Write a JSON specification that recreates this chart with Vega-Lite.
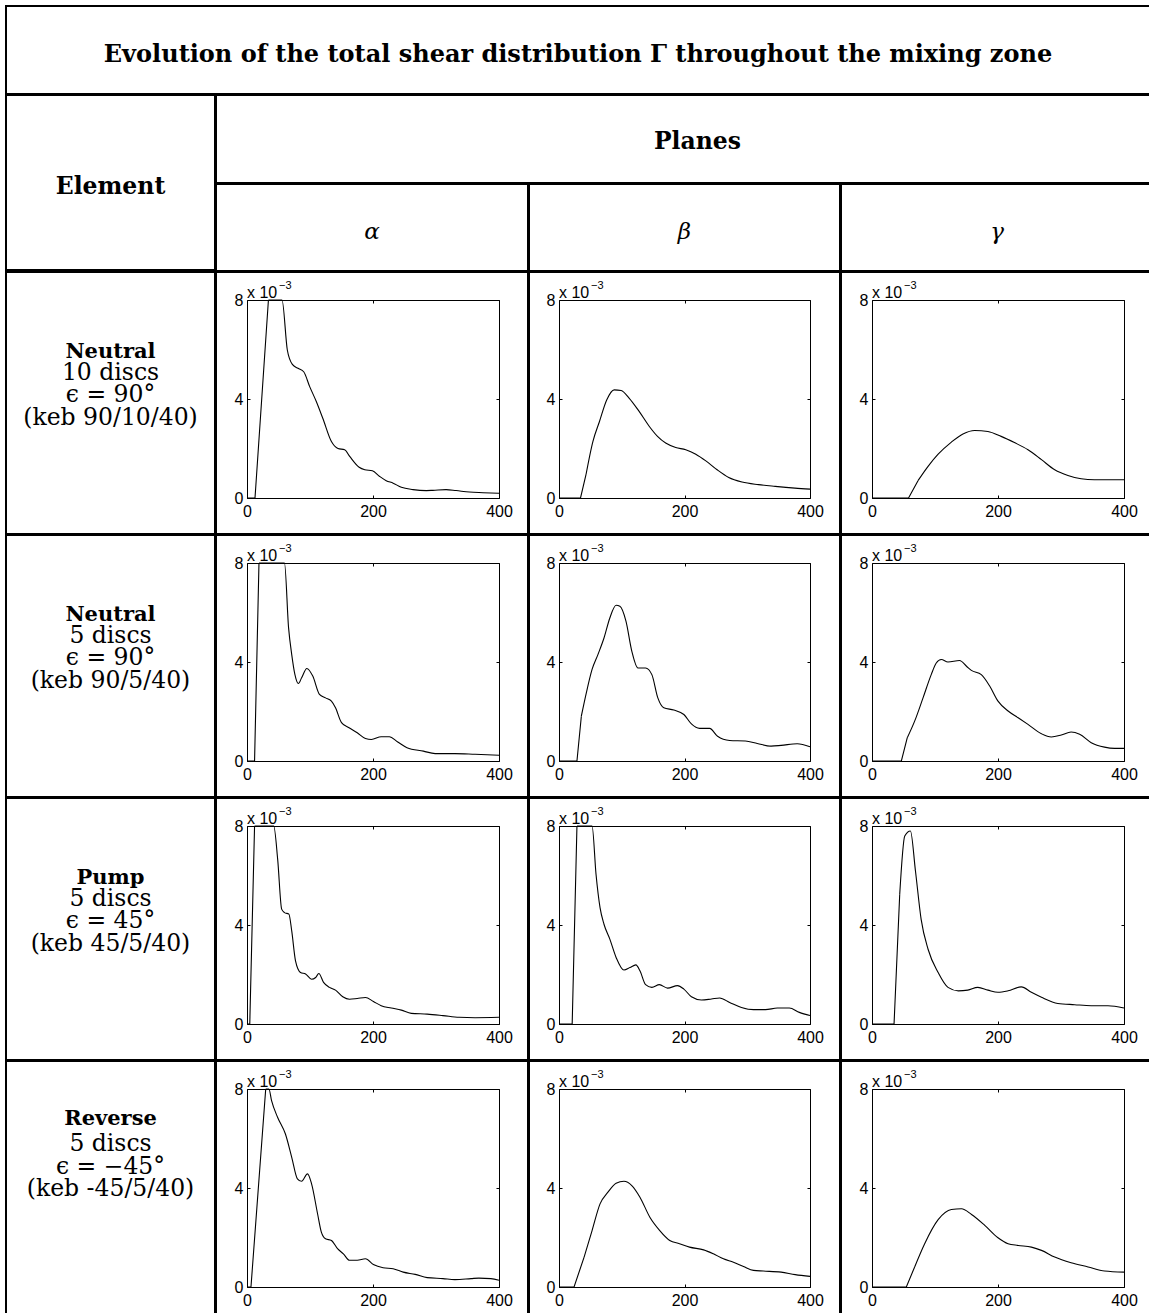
{
  "$schema": "https://vega.github.io/schema/vega-lite/v6.json",
  "padding": {"left": 5, "top": 5, "right": -4, "bottom": -7},
  "background": "white",
  "spacing": -4,
  "datasets": {
    "r1a": [{"x":0,"y":0},{"x":12.7,"y":0},{"x":34,"y":8},{"x":40,"y":9.5},{"x":48,"y":10.2},{"x":55.6,"y":8},{"x":64,"y":5.98},{"x":72,"y":5.4},{"x":81,"y":5.24},{"x":90,"y":5.1},{"x":99.5,"y":4.5},{"x":110,"y":3.9},{"x":120.6,"y":3.2},{"x":134,"y":2.28},{"x":144.4,"y":2.0},{"x":155,"y":1.95},{"x":163,"y":1.68},{"x":178,"y":1.24},{"x":187,"y":1.14},{"x":199,"y":1.1},{"x":210.6,"y":0.87},{"x":221,"y":0.7},{"x":232,"y":0.6},{"x":245,"y":0.43},{"x":263.5,"y":0.34},{"x":284.7,"y":0.3},{"x":295,"y":0.31},{"x":316,"y":0.34},{"x":332,"y":0.3},{"x":353,"y":0.24},{"x":374.6,"y":0.215},{"x":400,"y":0.19}],
    "r1b": [{"x":0,"y":0},{"x":34.3,"y":0},{"x":43,"y":0.94},{"x":54,"y":2.28},{"x":64.5,"y":3.09},{"x":76,"y":3.96},{"x":88,"y":4.37},{"x":99,"y":4.34},{"x":112,"y":4.03},{"x":128,"y":3.49},{"x":144,"y":2.89},{"x":157,"y":2.49},{"x":170,"y":2.22},{"x":186,"y":2.04},{"x":202,"y":1.95},{"x":218,"y":1.77},{"x":234,"y":1.5},{"x":252,"y":1.14},{"x":270.5,"y":0.83},{"x":291.7,"y":0.645},{"x":318,"y":0.54},{"x":344.5,"y":0.47},{"x":376,"y":0.4},{"x":400,"y":0.36}],
    "r1g": [{"x":0,"y":0},{"x":58,"y":0},{"x":73,"y":0.7},{"x":89,"y":1.28},{"x":105,"y":1.77},{"x":126,"y":2.26},{"x":144.4,"y":2.59},{"x":163,"y":2.73},{"x":184,"y":2.69},{"x":205,"y":2.49},{"x":226,"y":2.24},{"x":247.6,"y":1.95},{"x":269,"y":1.55},{"x":290,"y":1.14},{"x":311,"y":0.91},{"x":332,"y":0.78},{"x":353,"y":0.74},{"x":400,"y":0.74}],
    "r2a": [{"x":0,"y":0},{"x":12,"y":0},{"x":19,"y":8},{"x":30,"y":11},{"x":45,"y":11},{"x":59.5,"y":8},{"x":66,"y":5.38},{"x":71,"y":4.3},{"x":76,"y":3.5},{"x":81.6,"y":3.13},{"x":86.7,"y":3.36},{"x":95,"y":3.74},{"x":104.4,"y":3.43},{"x":115,"y":2.69},{"x":124.7,"y":2.55},{"x":134,"y":2.42},{"x":140.5,"y":2.15},{"x":150,"y":1.55},{"x":162,"y":1.34},{"x":175,"y":1.14},{"x":188,"y":0.91},{"x":197.5,"y":0.87},{"x":213,"y":0.98},{"x":226,"y":0.98},{"x":238.6,"y":0.78},{"x":254,"y":0.54},{"x":280,"y":0.4},{"x":298.7,"y":0.3},{"x":330,"y":0.3},{"x":362,"y":0.27},{"x":400,"y":0.23}],
    "r2b": [{"x":0,"y":0},{"x":28.6,"y":0},{"x":35.6,"y":1.81},{"x":43,"y":2.69},{"x":52.7,"y":3.7},{"x":62,"y":4.3},{"x":71.7,"y":4.97},{"x":81,"y":5.78},{"x":91,"y":6.29},{"x":97,"y":6.25},{"x":106.7,"y":5.65},{"x":116,"y":4.44},{"x":125.7,"y":3.76},{"x":138,"y":3.76},{"x":148,"y":3.49},{"x":157.5,"y":2.55},{"x":167,"y":2.15},{"x":183,"y":2.06},{"x":199,"y":1.88},{"x":211,"y":1.5},{"x":224,"y":1.32},{"x":240,"y":1.32},{"x":252.7,"y":1.0},{"x":272,"y":0.83},{"x":297,"y":0.81},{"x":316,"y":0.71},{"x":338,"y":0.6},{"x":354,"y":0.63},{"x":379.7,"y":0.7},{"x":400,"y":0.58}],
    "r2g": [{"x":0,"y":0},{"x":46.6,"y":0},{"x":56,"y":0.94},{"x":67.7,"y":1.61},{"x":81,"y":2.55},{"x":94,"y":3.49},{"x":102,"y":3.96},{"x":110,"y":4.1},{"x":120.6,"y":4.0},{"x":139,"y":4.06},{"x":150,"y":3.83},{"x":157.7,"y":3.66},{"x":173.5,"y":3.49},{"x":187,"y":3.02},{"x":200,"y":2.42},{"x":216,"y":2.02},{"x":232,"y":1.75},{"x":247.6,"y":1.48},{"x":269,"y":1.1},{"x":284.7,"y":0.97},{"x":300.5,"y":1.05},{"x":316,"y":1.17},{"x":329.6,"y":1.08},{"x":348,"y":0.74},{"x":369,"y":0.56},{"x":385,"y":0.51},{"x":400,"y":0.51}],
    "r3a": [{"x":0,"y":0},{"x":4.4,"y":0},{"x":12,"y":8},{"x":20,"y":11},{"x":35,"y":11},{"x":42.4,"y":8},{"x":48.7,"y":6.65},{"x":55,"y":4.64},{"x":59.5,"y":4.5},{"x":66.5,"y":4.44},{"x":71,"y":3.76},{"x":77,"y":2.55},{"x":85,"y":2.08},{"x":93,"y":2.02},{"x":102.5,"y":1.81},{"x":109,"y":1.88},{"x":114,"y":2.04},{"x":121.5,"y":1.68},{"x":131,"y":1.48},{"x":140.5,"y":1.37},{"x":152,"y":1.1},{"x":162.7,"y":1.0},{"x":175,"y":1.03},{"x":188,"y":1.07},{"x":200.6,"y":0.91},{"x":213,"y":0.74},{"x":229,"y":0.645},{"x":245,"y":0.56},{"x":260.8,"y":0.43},{"x":286,"y":0.4},{"x":311,"y":0.34},{"x":336.7,"y":0.27},{"x":362,"y":0.255},{"x":400,"y":0.27}],
    "r3b": [{"x":0,"y":0},{"x":21,"y":0},{"x":28.6,"y":8},{"x":35,"y":11},{"x":45,"y":11},{"x":52.7,"y":8},{"x":59,"y":6.05},{"x":65.4,"y":4.7},{"x":71.7,"y":4.03},{"x":81,"y":3.43},{"x":91,"y":2.69},{"x":103.5,"y":2.18},{"x":113,"y":2.28},{"x":122.5,"y":2.39},{"x":129,"y":2.15},{"x":138,"y":1.59},{"x":148,"y":1.48},{"x":160,"y":1.59},{"x":173,"y":1.45},{"x":189,"y":1.55},{"x":199,"y":1.41},{"x":211,"y":1.1},{"x":227,"y":0.97},{"x":243,"y":1.01},{"x":256,"y":1.05},{"x":272,"y":0.87},{"x":290.8,"y":0.67},{"x":310,"y":0.58},{"x":329,"y":0.58},{"x":348,"y":0.645},{"x":367,"y":0.645},{"x":383,"y":0.47},{"x":400,"y":0.34}],
    "r3g": [{"x":0,"y":0},{"x":35,"y":0},{"x":44,"y":5.24},{"x":52,"y":7.6},{"x":61,"y":7.8},{"x":69,"y":6.18},{"x":78,"y":4.23},{"x":89,"y":3.02},{"x":105,"y":2.08},{"x":120.6,"y":1.48},{"x":137,"y":1.34},{"x":152,"y":1.37},{"x":168,"y":1.48},{"x":184,"y":1.37},{"x":200,"y":1.28},{"x":216,"y":1.34},{"x":237,"y":1.5},{"x":253,"y":1.28},{"x":269,"y":1.08},{"x":295,"y":0.83},{"x":321.7,"y":0.78},{"x":348,"y":0.74},{"x":374.6,"y":0.74},{"x":400,"y":0.645}],
    "r4a": [{"x":0,"y":0},{"x":6.3,"y":0},{"x":29.7,"y":8},{"x":32,"y":8.6},{"x":34.8,"y":8},{"x":39,"y":7.53},{"x":48.7,"y":6.85},{"x":61,"y":6.18},{"x":71,"y":5.24},{"x":80,"y":4.37},{"x":86.7,"y":4.27},{"x":96,"y":4.57},{"x":102.5,"y":4.17},{"x":112,"y":2.96},{"x":118,"y":2.22},{"x":124.7,"y":1.95},{"x":134,"y":1.88},{"x":143.7,"y":1.55},{"x":153,"y":1.34},{"x":162.7,"y":1.08},{"x":175,"y":1.08},{"x":188,"y":1.14},{"x":200.6,"y":0.91},{"x":216,"y":0.78},{"x":232,"y":0.74},{"x":248,"y":0.6},{"x":267,"y":0.51},{"x":286,"y":0.38},{"x":311,"y":0.34},{"x":330,"y":0.3},{"x":355.7,"y":0.34},{"x":368,"y":0.36},{"x":387,"y":0.34},{"x":400,"y":0.27}],
    "r4b": [{"x":0,"y":0},{"x":24,"y":0},{"x":40,"y":1.21},{"x":52.7,"y":2.28},{"x":65.4,"y":3.36},{"x":78,"y":3.83},{"x":91,"y":4.19},{"x":103.5,"y":4.27},{"x":116,"y":4.1},{"x":129,"y":3.63},{"x":144.8,"y":2.82},{"x":160.6,"y":2.28},{"x":176.5,"y":1.88},{"x":192,"y":1.75},{"x":208,"y":1.61},{"x":230.5,"y":1.5},{"x":246,"y":1.34},{"x":262,"y":1.14},{"x":278,"y":1.0},{"x":294,"y":0.83},{"x":310,"y":0.67},{"x":325.7,"y":0.645},{"x":354,"y":0.6},{"x":376.5,"y":0.5},{"x":400,"y":0.43}],
    "r4g": [{"x":0,"y":0},{"x":54.5,"y":0},{"x":67.7,"y":0.81},{"x":83.6,"y":1.75},{"x":105,"y":2.72},{"x":126,"y":3.13},{"x":142,"y":3.16},{"x":158,"y":2.93},{"x":179,"y":2.49},{"x":200,"y":1.99},{"x":216,"y":1.75},{"x":232,"y":1.68},{"x":253,"y":1.61},{"x":269,"y":1.48},{"x":290,"y":1.21},{"x":316,"y":0.98},{"x":343,"y":0.81},{"x":369,"y":0.645},{"x":400,"y":0.6}],
    "exp": [{"a": "x 10", "b": "−3"}]
  },
  "vconcat": [
    {
      "width": 1144, "height": 88, "view": {"style": "cell"},
      "data": {"values": [{"t": "Evolution of the total shear distribution Γ throughout the mixing zone"}]},
      "mark": {"type": "text", "font": "DejaVu Serif", "fontWeight": "bold", "fontSize": 24, "baseline": "alphabetic", "dy": 12},
      "encoding": {"text": {"field": "t"}}
    },
    {
      "spacing": -4,
      "hconcat": [
        {
          "width": 209, "height": 175, "view": {"style": "cell"},
          "data": {"values": [{"t": "Element"}]},
          "mark": {"type": "text", "font": "DejaVu Serif", "fontWeight": "bold", "fontSize": 23.5, "baseline": "alphabetic", "dy": 11},
          "encoding": {"text": {"field": "t"}}
        },
        {
          "spacing": -4,
          "vconcat": [
            {
              "width": 935, "height": 88, "view": {"style": "cell"},
              "data": {"values": [{"t": "Planes"}]},
              "mark": {"type": "text", "font": "DejaVu Serif", "fontWeight": "bold", "fontSize": 23.5, "baseline": "alphabetic", "dx": 14, "dy": 10},
              "encoding": {"text": {"field": "t"}}
            },
            {
              "spacing": -4,
              "hconcat": [
                {"width": 312, "height": 87, "view": {"style": "cell"}, "data": {"values": [{"t": "α"}]}, "mark": {"type": "text", "font": "DejaVu Serif", "fontStyle": "italic", "fontSize": 23, "baseline": "alphabetic", "dy": 11}, "encoding": {"text": {"field": "t"}}},
                {"width": 311, "height": 87, "view": {"style": "cell"}, "data": {"values": [{"t": "β"}]}, "mark": {"type": "text", "font": "DejaVu Serif", "fontStyle": "italic", "fontSize": 23, "baseline": "alphabetic", "dy": 11}, "encoding": {"text": {"field": "t"}}},
                {"width": 312, "height": 87, "view": {"style": "cell"}, "data": {"values": [{"t": "γ"}]}, "mark": {"type": "text", "font": "DejaVu Serif", "fontStyle": "italic", "fontSize": 23, "baseline": "alphabetic", "dy": 11}, "encoding": {"text": {"field": "t"}}}
              ]
            }
          ]
        }
      ]
    },
    {
      "spacing": -4,
      "hconcat": [
        {
          "width": 209, "height": 262,
          "data": {"values": [{"t": "Neutral", "s": "10 discs\nϵ = 90°\n(keb 90/10/40)"}]},
          "layer": [
            {"mark": {"type": "text", "font": "DejaVu Serif", "fontWeight": "bold", "fontSize": 21, "baseline": "alphabetic", "dy": -45},
             "encoding": {"x": {"datum": 0.5, "type": "quantitative", "scale": {"domain": [0, 1]}, "axis": null}, "y": {"datum": 0.5, "type": "quantitative", "scale": {"domain": [0, 1]}, "axis": null}, "text": {"field": "t"}}},
            {"mark": {"type": "text", "font": "DejaVu Serif", "fontSize": 23.5, "baseline": "alphabetic", "dy": -23.5, "lineBreak": "\n", "lineHeight": 22.5},
             "encoding": {"x": {"datum": 0.5, "type": "quantitative", "axis": null}, "y": {"datum": 0.5, "type": "quantitative", "axis": null}, "text": {"field": "s"}}}
          ]
        },
        {
          "width": 312, "height": 262, "data": {"name": "r1a"},
          "resolve": {"axis": {"x": "independent", "y": "independent"}},
          "layer": [
            {"transform": [{"filter": "datum.x <= 34"}], "mark": {"type": "line", "color": "black", "strokeWidth": 1.1},
             "encoding": {
               "x": {"field": "x", "type": "quantitative", "scale": {"domain": [0, 400], "range": [31, 283], "nice": false, "zero": false}, "axis": {"orient": "bottom", "offset": -36, "values": [0, 200, 400], "title": null}},
               "y": {"field": "y", "type": "quantitative", "scale": {"domain": [0, 8], "range": [226, 28], "nice": false, "clamp": true}, "axis": {"orient": "left", "offset": -31, "values": [0, 4, 8], "title": null}}}},
            {"transform": [{"filter": "datum.x >= 34"}], "mark": {"type": "line", "color": "black", "strokeWidth": 1.1, "interpolate": "monotone"},
             "encoding": {
               "x": {"field": "x", "type": "quantitative", "axis": {"orient": "top", "offset": -28, "values": [0, 200, 400], "labels": false, "title": null}},
               "y": {"field": "y", "type": "quantitative", "axis": {"orient": "right", "offset": -29, "values": [0, 4, 8], "labels": false, "title": null}}}},
            {"data": {"name": "exp"}, "mark": {"type": "text", "align": "left", "baseline": "alphabetic", "dy": -2, "font": "Liberation Sans", "fontSize": 16},
             "encoding": {"x": {"datum": 0, "type": "quantitative", "axis": null}, "y": {"datum": 8, "type": "quantitative", "axis": null}, "text": {"field": "a"}}},
            {"data": {"name": "exp"}, "mark": {"type": "text", "align": "left", "baseline": "alphabetic", "dx": 32, "dy": -11, "font": "Liberation Sans", "fontSize": 11},
             "encoding": {"x": {"datum": 0, "type": "quantitative", "axis": null}, "y": {"datum": 8, "type": "quantitative", "axis": null}, "text": {"field": "b"}}}
          ]
        },
        {
          "width": 311, "height": 262, "data": {"name": "r1b"},
          "resolve": {"axis": {"x": "independent", "y": "independent"}},
          "layer": [
            {"transform": [{"filter": "datum.x <= 43"}], "mark": {"type": "line", "color": "black", "strokeWidth": 1.1},
             "encoding": {
               "x": {"field": "x", "type": "quantitative", "scale": {"domain": [0, 400], "range": [30, 281], "nice": false, "zero": false}, "axis": {"orient": "bottom", "offset": -36, "values": [0, 200, 400], "title": null}},
               "y": {"field": "y", "type": "quantitative", "scale": {"domain": [0, 8], "range": [226, 28], "nice": false, "clamp": true}, "axis": {"orient": "left", "offset": -30, "values": [0, 4, 8], "title": null}}}},
            {"transform": [{"filter": "datum.x >= 43"}], "mark": {"type": "line", "color": "black", "strokeWidth": 1.1, "interpolate": "monotone"},
             "encoding": {
               "x": {"field": "x", "type": "quantitative", "axis": {"orient": "top", "offset": -28, "values": [0, 200, 400], "labels": false, "title": null}},
               "y": {"field": "y", "type": "quantitative", "axis": {"orient": "right", "offset": -30, "values": [0, 4, 8], "labels": false, "title": null}}}},
            {"data": {"name": "exp"}, "mark": {"type": "text", "align": "left", "baseline": "alphabetic", "dy": -2, "font": "Liberation Sans", "fontSize": 16},
             "encoding": {"x": {"datum": 0, "type": "quantitative", "axis": null}, "y": {"datum": 8, "type": "quantitative", "axis": null}, "text": {"field": "a"}}},
            {"data": {"name": "exp"}, "mark": {"type": "text", "align": "left", "baseline": "alphabetic", "dx": 32, "dy": -11, "font": "Liberation Sans", "fontSize": 11},
             "encoding": {"x": {"datum": 0, "type": "quantitative", "axis": null}, "y": {"datum": 8, "type": "quantitative", "axis": null}, "text": {"field": "b"}}}
          ]
        },
        {
          "width": 312, "height": 262, "data": {"name": "r1g"},
          "resolve": {"axis": {"x": "independent", "y": "independent"}},
          "layer": [
            {"transform": [{"filter": "datum.x <= 73"}], "mark": {"type": "line", "color": "black", "strokeWidth": 1.1},
             "encoding": {
               "x": {"field": "x", "type": "quantitative", "scale": {"domain": [0, 400], "range": [31, 283], "nice": false, "zero": false}, "axis": {"orient": "bottom", "offset": -36, "values": [0, 200, 400], "title": null}},
               "y": {"field": "y", "type": "quantitative", "scale": {"domain": [0, 8], "range": [226, 28], "nice": false, "clamp": true}, "axis": {"orient": "left", "offset": -31, "values": [0, 4, 8], "title": null}}}},
            {"transform": [{"filter": "datum.x >= 73"}], "mark": {"type": "line", "color": "black", "strokeWidth": 1.1, "interpolate": "monotone"},
             "encoding": {
               "x": {"field": "x", "type": "quantitative", "axis": {"orient": "top", "offset": -28, "values": [0, 200, 400], "labels": false, "title": null}},
               "y": {"field": "y", "type": "quantitative", "axis": {"orient": "right", "offset": -29, "values": [0, 4, 8], "labels": false, "title": null}}}},
            {"data": {"name": "exp"}, "mark": {"type": "text", "align": "left", "baseline": "alphabetic", "dy": -2, "font": "Liberation Sans", "fontSize": 16},
             "encoding": {"x": {"datum": 0, "type": "quantitative", "axis": null}, "y": {"datum": 8, "type": "quantitative", "axis": null}, "text": {"field": "a"}}},
            {"data": {"name": "exp"}, "mark": {"type": "text", "align": "left", "baseline": "alphabetic", "dx": 32, "dy": -11, "font": "Liberation Sans", "fontSize": 11},
             "encoding": {"x": {"datum": 0, "type": "quantitative", "axis": null}, "y": {"datum": 8, "type": "quantitative", "axis": null}, "text": {"field": "b"}}}
          ]
        }
      ]
    },
    {
      "spacing": -4,
      "hconcat": [
        {
          "width": 209, "height": 262,
          "data": {"values": [{"t": "Neutral", "s": "5 discs\nϵ = 90°\n(keb 90/5/40)"}]},
          "layer": [
            {"mark": {"type": "text", "font": "DejaVu Serif", "fontWeight": "bold", "fontSize": 21, "baseline": "alphabetic", "dy": -45},
             "encoding": {"x": {"datum": 0.5, "type": "quantitative", "scale": {"domain": [0, 1]}, "axis": null}, "y": {"datum": 0.5, "type": "quantitative", "scale": {"domain": [0, 1]}, "axis": null}, "text": {"field": "t"}}},
            {"mark": {"type": "text", "font": "DejaVu Serif", "fontSize": 23.5, "baseline": "alphabetic", "dy": -23.5, "lineBreak": "\n", "lineHeight": 22.5},
             "encoding": {"x": {"datum": 0.5, "type": "quantitative", "axis": null}, "y": {"datum": 0.5, "type": "quantitative", "axis": null}, "text": {"field": "s"}}}
          ]
        },
        {
          "width": 312, "height": 262, "data": {"name": "r2a"},
          "resolve": {"axis": {"x": "independent", "y": "independent"}},
          "layer": [
            {"transform": [{"filter": "datum.x <= 19"}], "mark": {"type": "line", "color": "black", "strokeWidth": 1.1},
             "encoding": {
               "x": {"field": "x", "type": "quantitative", "scale": {"domain": [0, 400], "range": [31, 283], "nice": false, "zero": false}, "axis": {"orient": "bottom", "offset": -36, "values": [0, 200, 400], "title": null}},
               "y": {"field": "y", "type": "quantitative", "scale": {"domain": [0, 8], "range": [226, 28], "nice": false, "clamp": true}, "axis": {"orient": "left", "offset": -31, "values": [0, 4, 8], "title": null}}}},
            {"transform": [{"filter": "datum.x >= 19"}], "mark": {"type": "line", "color": "black", "strokeWidth": 1.1, "interpolate": "monotone"},
             "encoding": {
               "x": {"field": "x", "type": "quantitative", "axis": {"orient": "top", "offset": -28, "values": [0, 200, 400], "labels": false, "title": null}},
               "y": {"field": "y", "type": "quantitative", "axis": {"orient": "right", "offset": -29, "values": [0, 4, 8], "labels": false, "title": null}}}},
            {"data": {"name": "exp"}, "mark": {"type": "text", "align": "left", "baseline": "alphabetic", "dy": -2, "font": "Liberation Sans", "fontSize": 16},
             "encoding": {"x": {"datum": 0, "type": "quantitative", "axis": null}, "y": {"datum": 8, "type": "quantitative", "axis": null}, "text": {"field": "a"}}},
            {"data": {"name": "exp"}, "mark": {"type": "text", "align": "left", "baseline": "alphabetic", "dx": 32, "dy": -11, "font": "Liberation Sans", "fontSize": 11},
             "encoding": {"x": {"datum": 0, "type": "quantitative", "axis": null}, "y": {"datum": 8, "type": "quantitative", "axis": null}, "text": {"field": "b"}}}
          ]
        },
        {
          "width": 311, "height": 262, "data": {"name": "r2b"},
          "resolve": {"axis": {"x": "independent", "y": "independent"}},
          "layer": [
            {"transform": [{"filter": "datum.x <= 35.6"}], "mark": {"type": "line", "color": "black", "strokeWidth": 1.1},
             "encoding": {
               "x": {"field": "x", "type": "quantitative", "scale": {"domain": [0, 400], "range": [30, 281], "nice": false, "zero": false}, "axis": {"orient": "bottom", "offset": -36, "values": [0, 200, 400], "title": null}},
               "y": {"field": "y", "type": "quantitative", "scale": {"domain": [0, 8], "range": [226, 28], "nice": false, "clamp": true}, "axis": {"orient": "left", "offset": -30, "values": [0, 4, 8], "title": null}}}},
            {"transform": [{"filter": "datum.x >= 35.6"}], "mark": {"type": "line", "color": "black", "strokeWidth": 1.1, "interpolate": "monotone"},
             "encoding": {
               "x": {"field": "x", "type": "quantitative", "axis": {"orient": "top", "offset": -28, "values": [0, 200, 400], "labels": false, "title": null}},
               "y": {"field": "y", "type": "quantitative", "axis": {"orient": "right", "offset": -30, "values": [0, 4, 8], "labels": false, "title": null}}}},
            {"data": {"name": "exp"}, "mark": {"type": "text", "align": "left", "baseline": "alphabetic", "dy": -2, "font": "Liberation Sans", "fontSize": 16},
             "encoding": {"x": {"datum": 0, "type": "quantitative", "axis": null}, "y": {"datum": 8, "type": "quantitative", "axis": null}, "text": {"field": "a"}}},
            {"data": {"name": "exp"}, "mark": {"type": "text", "align": "left", "baseline": "alphabetic", "dx": 32, "dy": -11, "font": "Liberation Sans", "fontSize": 11},
             "encoding": {"x": {"datum": 0, "type": "quantitative", "axis": null}, "y": {"datum": 8, "type": "quantitative", "axis": null}, "text": {"field": "b"}}}
          ]
        },
        {
          "width": 312, "height": 262, "data": {"name": "r2g"},
          "resolve": {"axis": {"x": "independent", "y": "independent"}},
          "layer": [
            {"transform": [{"filter": "datum.x <= 56"}], "mark": {"type": "line", "color": "black", "strokeWidth": 1.1},
             "encoding": {
               "x": {"field": "x", "type": "quantitative", "scale": {"domain": [0, 400], "range": [31, 283], "nice": false, "zero": false}, "axis": {"orient": "bottom", "offset": -36, "values": [0, 200, 400], "title": null}},
               "y": {"field": "y", "type": "quantitative", "scale": {"domain": [0, 8], "range": [226, 28], "nice": false, "clamp": true}, "axis": {"orient": "left", "offset": -31, "values": [0, 4, 8], "title": null}}}},
            {"transform": [{"filter": "datum.x >= 56"}], "mark": {"type": "line", "color": "black", "strokeWidth": 1.1, "interpolate": "monotone"},
             "encoding": {
               "x": {"field": "x", "type": "quantitative", "axis": {"orient": "top", "offset": -28, "values": [0, 200, 400], "labels": false, "title": null}},
               "y": {"field": "y", "type": "quantitative", "axis": {"orient": "right", "offset": -29, "values": [0, 4, 8], "labels": false, "title": null}}}},
            {"data": {"name": "exp"}, "mark": {"type": "text", "align": "left", "baseline": "alphabetic", "dy": -2, "font": "Liberation Sans", "fontSize": 16},
             "encoding": {"x": {"datum": 0, "type": "quantitative", "axis": null}, "y": {"datum": 8, "type": "quantitative", "axis": null}, "text": {"field": "a"}}},
            {"data": {"name": "exp"}, "mark": {"type": "text", "align": "left", "baseline": "alphabetic", "dx": 32, "dy": -11, "font": "Liberation Sans", "fontSize": 11},
             "encoding": {"x": {"datum": 0, "type": "quantitative", "axis": null}, "y": {"datum": 8, "type": "quantitative", "axis": null}, "text": {"field": "b"}}}
          ]
        }
      ]
    },
    {
      "spacing": -4,
      "hconcat": [
        {
          "width": 209, "height": 262,
          "data": {"values": [{"t": "Pump", "s": "5 discs\nϵ = 45°\n(keb 45/5/40)"}]},
          "layer": [
            {"mark": {"type": "text", "font": "DejaVu Serif", "fontWeight": "bold", "fontSize": 21, "baseline": "alphabetic", "dy": -45},
             "encoding": {"x": {"datum": 0.5, "type": "quantitative", "scale": {"domain": [0, 1]}, "axis": null}, "y": {"datum": 0.5, "type": "quantitative", "scale": {"domain": [0, 1]}, "axis": null}, "text": {"field": "t"}}},
            {"mark": {"type": "text", "font": "DejaVu Serif", "fontSize": 23.5, "baseline": "alphabetic", "dy": -23.5, "lineBreak": "\n", "lineHeight": 22.5},
             "encoding": {"x": {"datum": 0.5, "type": "quantitative", "axis": null}, "y": {"datum": 0.5, "type": "quantitative", "axis": null}, "text": {"field": "s"}}}
          ]
        },
        {
          "width": 312, "height": 262, "data": {"name": "r3a"},
          "resolve": {"axis": {"x": "independent", "y": "independent"}},
          "layer": [
            {"transform": [{"filter": "datum.x <= 12"}], "mark": {"type": "line", "color": "black", "strokeWidth": 1.1},
             "encoding": {
               "x": {"field": "x", "type": "quantitative", "scale": {"domain": [0, 400], "range": [31, 283], "nice": false, "zero": false}, "axis": {"orient": "bottom", "offset": -36, "values": [0, 200, 400], "title": null}},
               "y": {"field": "y", "type": "quantitative", "scale": {"domain": [0, 8], "range": [226, 28], "nice": false, "clamp": true}, "axis": {"orient": "left", "offset": -31, "values": [0, 4, 8], "title": null}}}},
            {"transform": [{"filter": "datum.x >= 12"}], "mark": {"type": "line", "color": "black", "strokeWidth": 1.1, "interpolate": "monotone"},
             "encoding": {
               "x": {"field": "x", "type": "quantitative", "axis": {"orient": "top", "offset": -28, "values": [0, 200, 400], "labels": false, "title": null}},
               "y": {"field": "y", "type": "quantitative", "axis": {"orient": "right", "offset": -29, "values": [0, 4, 8], "labels": false, "title": null}}}},
            {"data": {"name": "exp"}, "mark": {"type": "text", "align": "left", "baseline": "alphabetic", "dy": -2, "font": "Liberation Sans", "fontSize": 16},
             "encoding": {"x": {"datum": 0, "type": "quantitative", "axis": null}, "y": {"datum": 8, "type": "quantitative", "axis": null}, "text": {"field": "a"}}},
            {"data": {"name": "exp"}, "mark": {"type": "text", "align": "left", "baseline": "alphabetic", "dx": 32, "dy": -11, "font": "Liberation Sans", "fontSize": 11},
             "encoding": {"x": {"datum": 0, "type": "quantitative", "axis": null}, "y": {"datum": 8, "type": "quantitative", "axis": null}, "text": {"field": "b"}}}
          ]
        },
        {
          "width": 311, "height": 262, "data": {"name": "r3b"},
          "resolve": {"axis": {"x": "independent", "y": "independent"}},
          "layer": [
            {"transform": [{"filter": "datum.x <= 28.6"}], "mark": {"type": "line", "color": "black", "strokeWidth": 1.1},
             "encoding": {
               "x": {"field": "x", "type": "quantitative", "scale": {"domain": [0, 400], "range": [30, 281], "nice": false, "zero": false}, "axis": {"orient": "bottom", "offset": -36, "values": [0, 200, 400], "title": null}},
               "y": {"field": "y", "type": "quantitative", "scale": {"domain": [0, 8], "range": [226, 28], "nice": false, "clamp": true}, "axis": {"orient": "left", "offset": -30, "values": [0, 4, 8], "title": null}}}},
            {"transform": [{"filter": "datum.x >= 28.6"}], "mark": {"type": "line", "color": "black", "strokeWidth": 1.1, "interpolate": "monotone"},
             "encoding": {
               "x": {"field": "x", "type": "quantitative", "axis": {"orient": "top", "offset": -28, "values": [0, 200, 400], "labels": false, "title": null}},
               "y": {"field": "y", "type": "quantitative", "axis": {"orient": "right", "offset": -30, "values": [0, 4, 8], "labels": false, "title": null}}}},
            {"data": {"name": "exp"}, "mark": {"type": "text", "align": "left", "baseline": "alphabetic", "dy": -2, "font": "Liberation Sans", "fontSize": 16},
             "encoding": {"x": {"datum": 0, "type": "quantitative", "axis": null}, "y": {"datum": 8, "type": "quantitative", "axis": null}, "text": {"field": "a"}}},
            {"data": {"name": "exp"}, "mark": {"type": "text", "align": "left", "baseline": "alphabetic", "dx": 32, "dy": -11, "font": "Liberation Sans", "fontSize": 11},
             "encoding": {"x": {"datum": 0, "type": "quantitative", "axis": null}, "y": {"datum": 8, "type": "quantitative", "axis": null}, "text": {"field": "b"}}}
          ]
        },
        {
          "width": 312, "height": 262, "data": {"name": "r3g"},
          "resolve": {"axis": {"x": "independent", "y": "independent"}},
          "layer": [
            {"transform": [{"filter": "datum.x <= 44"}], "mark": {"type": "line", "color": "black", "strokeWidth": 1.1},
             "encoding": {
               "x": {"field": "x", "type": "quantitative", "scale": {"domain": [0, 400], "range": [31, 283], "nice": false, "zero": false}, "axis": {"orient": "bottom", "offset": -36, "values": [0, 200, 400], "title": null}},
               "y": {"field": "y", "type": "quantitative", "scale": {"domain": [0, 8], "range": [226, 28], "nice": false, "clamp": true}, "axis": {"orient": "left", "offset": -31, "values": [0, 4, 8], "title": null}}}},
            {"transform": [{"filter": "datum.x >= 44"}], "mark": {"type": "line", "color": "black", "strokeWidth": 1.1, "interpolate": "monotone"},
             "encoding": {
               "x": {"field": "x", "type": "quantitative", "axis": {"orient": "top", "offset": -28, "values": [0, 200, 400], "labels": false, "title": null}},
               "y": {"field": "y", "type": "quantitative", "axis": {"orient": "right", "offset": -29, "values": [0, 4, 8], "labels": false, "title": null}}}},
            {"data": {"name": "exp"}, "mark": {"type": "text", "align": "left", "baseline": "alphabetic", "dy": -2, "font": "Liberation Sans", "fontSize": 16},
             "encoding": {"x": {"datum": 0, "type": "quantitative", "axis": null}, "y": {"datum": 8, "type": "quantitative", "axis": null}, "text": {"field": "a"}}},
            {"data": {"name": "exp"}, "mark": {"type": "text", "align": "left", "baseline": "alphabetic", "dx": 32, "dy": -11, "font": "Liberation Sans", "fontSize": 11},
             "encoding": {"x": {"datum": 0, "type": "quantitative", "axis": null}, "y": {"datum": 8, "type": "quantitative", "axis": null}, "text": {"field": "b"}}}
          ]
        }
      ]
    },
    {
      "spacing": -4,
      "hconcat": [
        {
          "width": 209, "height": 262,
          "data": {"values": [{"t": "Reverse", "s": "5 discs\nϵ = −45°\n(keb -45/5/40)"}]},
          "layer": [
            {"mark": {"type": "text", "font": "DejaVu Serif", "fontWeight": "bold", "fontSize": 21, "baseline": "alphabetic", "dy": -67.5},
             "encoding": {"x": {"datum": 0.5, "type": "quantitative", "scale": {"domain": [0, 1]}, "axis": null}, "y": {"datum": 0.5, "type": "quantitative", "scale": {"domain": [0, 1]}, "axis": null}, "text": {"field": "t"}}},
            {"mark": {"type": "text", "font": "DejaVu Serif", "fontSize": 23.5, "baseline": "alphabetic", "dy": -41, "lineBreak": "\n", "lineHeight": 22.5},
             "encoding": {"x": {"datum": 0.5, "type": "quantitative", "axis": null}, "y": {"datum": 0.5, "type": "quantitative", "axis": null}, "text": {"field": "s"}}}
          ]
        },
        {
          "width": 312, "height": 262, "data": {"name": "r4a"},
          "resolve": {"axis": {"x": "independent", "y": "independent"}},
          "layer": [
            {"transform": [{"filter": "datum.x <= 29.7"}], "mark": {"type": "line", "color": "black", "strokeWidth": 1.1},
             "encoding": {
               "x": {"field": "x", "type": "quantitative", "scale": {"domain": [0, 400], "range": [31, 283], "nice": false, "zero": false}, "axis": {"orient": "bottom", "offset": -36, "values": [0, 200, 400], "title": null}},
               "y": {"field": "y", "type": "quantitative", "scale": {"domain": [0, 8], "range": [226, 28], "nice": false, "clamp": true}, "axis": {"orient": "left", "offset": -31, "values": [0, 4, 8], "title": null}}}},
            {"transform": [{"filter": "datum.x >= 29.7"}], "mark": {"type": "line", "color": "black", "strokeWidth": 1.1, "interpolate": "monotone"},
             "encoding": {
               "x": {"field": "x", "type": "quantitative", "axis": {"orient": "top", "offset": -28, "values": [0, 200, 400], "labels": false, "title": null}},
               "y": {"field": "y", "type": "quantitative", "axis": {"orient": "right", "offset": -29, "values": [0, 4, 8], "labels": false, "title": null}}}},
            {"data": {"name": "exp"}, "mark": {"type": "text", "align": "left", "baseline": "alphabetic", "dy": -2, "font": "Liberation Sans", "fontSize": 16},
             "encoding": {"x": {"datum": 0, "type": "quantitative", "axis": null}, "y": {"datum": 8, "type": "quantitative", "axis": null}, "text": {"field": "a"}}},
            {"data": {"name": "exp"}, "mark": {"type": "text", "align": "left", "baseline": "alphabetic", "dx": 32, "dy": -11, "font": "Liberation Sans", "fontSize": 11},
             "encoding": {"x": {"datum": 0, "type": "quantitative", "axis": null}, "y": {"datum": 8, "type": "quantitative", "axis": null}, "text": {"field": "b"}}}
          ]
        },
        {
          "width": 311, "height": 262, "data": {"name": "r4b"},
          "resolve": {"axis": {"x": "independent", "y": "independent"}},
          "layer": [
            {"transform": [{"filter": "datum.x <= 40"}], "mark": {"type": "line", "color": "black", "strokeWidth": 1.1},
             "encoding": {
               "x": {"field": "x", "type": "quantitative", "scale": {"domain": [0, 400], "range": [30, 281], "nice": false, "zero": false}, "axis": {"orient": "bottom", "offset": -36, "values": [0, 200, 400], "title": null}},
               "y": {"field": "y", "type": "quantitative", "scale": {"domain": [0, 8], "range": [226, 28], "nice": false, "clamp": true}, "axis": {"orient": "left", "offset": -30, "values": [0, 4, 8], "title": null}}}},
            {"transform": [{"filter": "datum.x >= 40"}], "mark": {"type": "line", "color": "black", "strokeWidth": 1.1, "interpolate": "monotone"},
             "encoding": {
               "x": {"field": "x", "type": "quantitative", "axis": {"orient": "top", "offset": -28, "values": [0, 200, 400], "labels": false, "title": null}},
               "y": {"field": "y", "type": "quantitative", "axis": {"orient": "right", "offset": -30, "values": [0, 4, 8], "labels": false, "title": null}}}},
            {"data": {"name": "exp"}, "mark": {"type": "text", "align": "left", "baseline": "alphabetic", "dy": -2, "font": "Liberation Sans", "fontSize": 16},
             "encoding": {"x": {"datum": 0, "type": "quantitative", "axis": null}, "y": {"datum": 8, "type": "quantitative", "axis": null}, "text": {"field": "a"}}},
            {"data": {"name": "exp"}, "mark": {"type": "text", "align": "left", "baseline": "alphabetic", "dx": 32, "dy": -11, "font": "Liberation Sans", "fontSize": 11},
             "encoding": {"x": {"datum": 0, "type": "quantitative", "axis": null}, "y": {"datum": 8, "type": "quantitative", "axis": null}, "text": {"field": "b"}}}
          ]
        },
        {
          "width": 312, "height": 262, "data": {"name": "r4g"},
          "resolve": {"axis": {"x": "independent", "y": "independent"}},
          "layer": [
            {"transform": [{"filter": "datum.x <= 67.7"}], "mark": {"type": "line", "color": "black", "strokeWidth": 1.1},
             "encoding": {
               "x": {"field": "x", "type": "quantitative", "scale": {"domain": [0, 400], "range": [31, 283], "nice": false, "zero": false}, "axis": {"orient": "bottom", "offset": -36, "values": [0, 200, 400], "title": null}},
               "y": {"field": "y", "type": "quantitative", "scale": {"domain": [0, 8], "range": [226, 28], "nice": false, "clamp": true}, "axis": {"orient": "left", "offset": -31, "values": [0, 4, 8], "title": null}}}},
            {"transform": [{"filter": "datum.x >= 67.7"}], "mark": {"type": "line", "color": "black", "strokeWidth": 1.1, "interpolate": "monotone"},
             "encoding": {
               "x": {"field": "x", "type": "quantitative", "axis": {"orient": "top", "offset": -28, "values": [0, 200, 400], "labels": false, "title": null}},
               "y": {"field": "y", "type": "quantitative", "axis": {"orient": "right", "offset": -29, "values": [0, 4, 8], "labels": false, "title": null}}}},
            {"data": {"name": "exp"}, "mark": {"type": "text", "align": "left", "baseline": "alphabetic", "dy": -2, "font": "Liberation Sans", "fontSize": 16},
             "encoding": {"x": {"datum": 0, "type": "quantitative", "axis": null}, "y": {"datum": 8, "type": "quantitative", "axis": null}, "text": {"field": "a"}}},
            {"data": {"name": "exp"}, "mark": {"type": "text", "align": "left", "baseline": "alphabetic", "dx": 32, "dy": -11, "font": "Liberation Sans", "fontSize": 11},
             "encoding": {"x": {"datum": 0, "type": "quantitative", "axis": null}, "y": {"datum": 8, "type": "quantitative", "axis": null}, "text": {"field": "b"}}}
          ]
        }
      ]
    }
  ],
  "config": {
    "view": {"stroke": "black", "strokeWidth": 2},
    "concat": {"spacing": -4},
    "text": {"color": "black"},
    "axis": {"grid": false, "domainColor": "black", "domainWidth": 1, "tickColor": "black", "tickWidth": 1, "tickSize": -3, "labelColor": "black", "labelFont": "Liberation Sans", "labelFontSize": 16, "labelFlush": false, "labelOverlap": false},
    "axisX": {"labelPadding": 8.5},
    "axisY": {"labelPadding": 7}
  }
}
